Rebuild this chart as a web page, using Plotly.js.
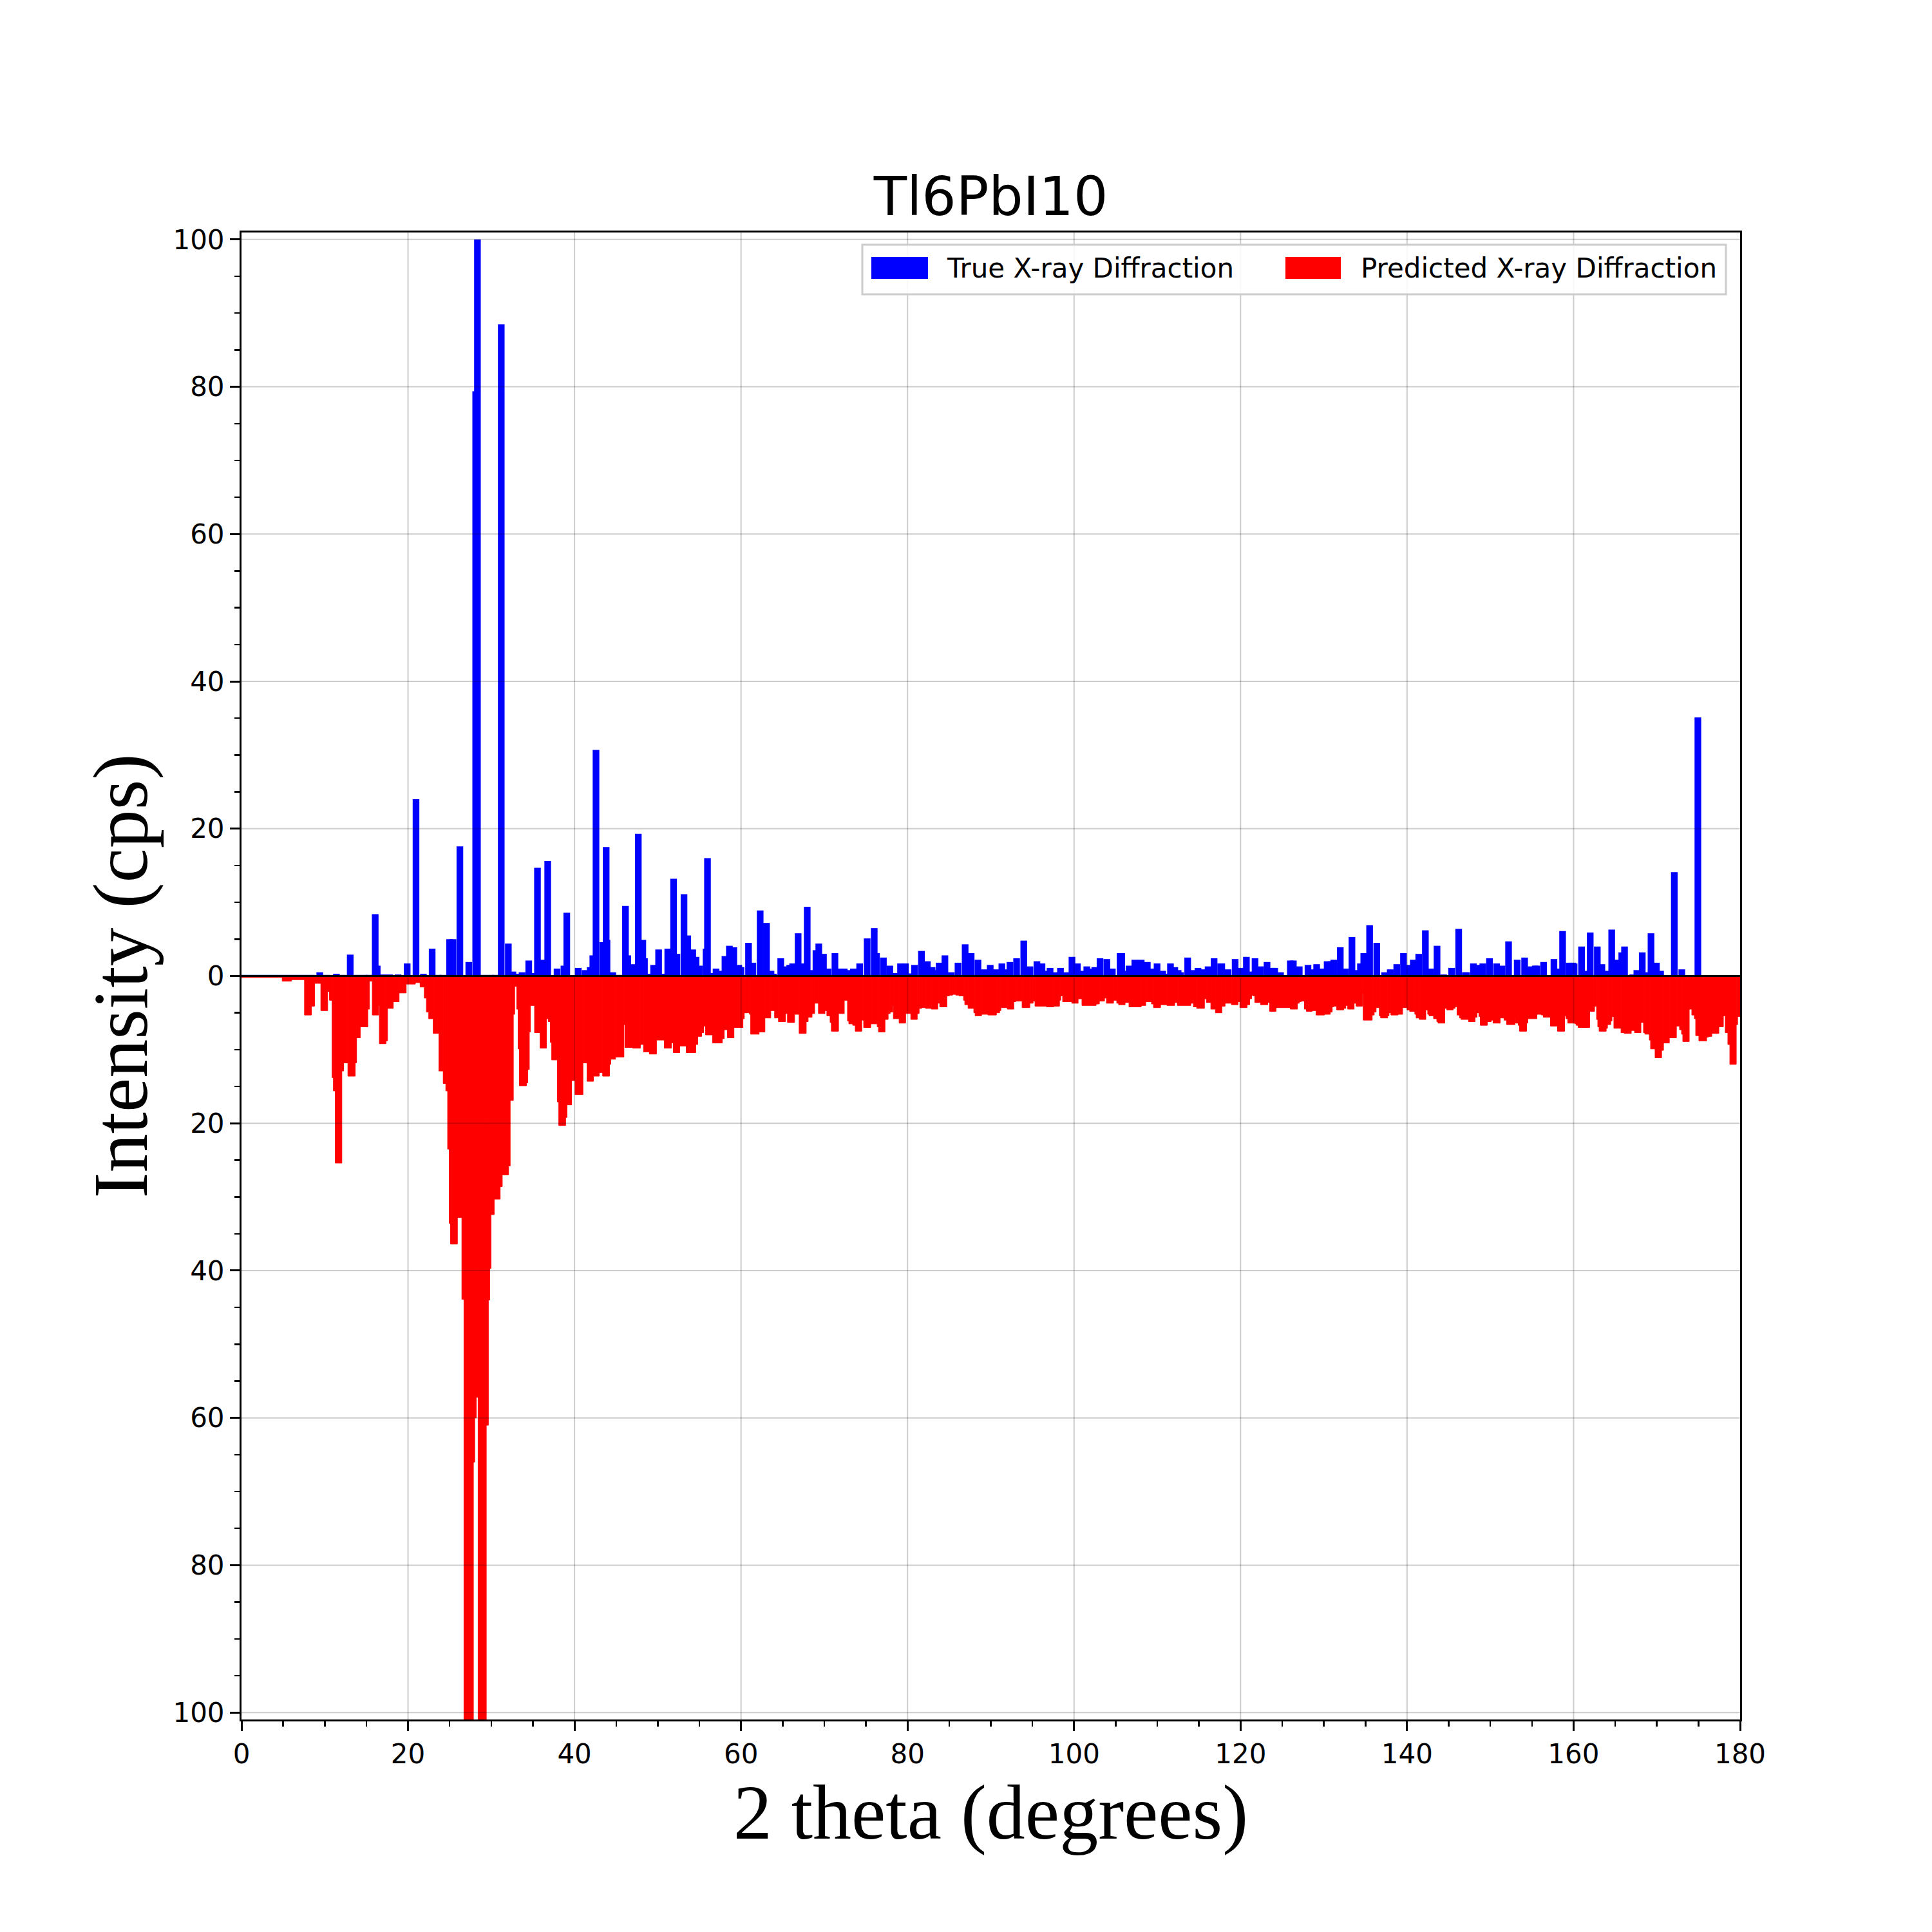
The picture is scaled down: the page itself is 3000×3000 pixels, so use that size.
<!DOCTYPE html>
<html><head><meta charset="utf-8">
<script src="https://cdn.plot.ly/plotly-3.0.1.min.js"></script>
<style>html,body{margin:0;padding:0;background:#fff}</style>
</head><body>
<div id="chart" style="width:3000px;height:3000px"></div>
<script>
const chartTitle = 'Tl6PbI10';
const xTitle = '2 theta (degrees)';
const yTitle = 'Intensity (cps)';
const seriesNames = ['True X-ray Diffraction', 'Predicted X-ray Diffraction'];
const seriesColors = ['#0000ff', '#ff0000'];
const xTickVals = [0, 20, 40, 60, 80, 100, 120, 140, 160, 180];
const yTickVals = [-100, -80, -60, -40, -20, 0, 20, 40, 60, 80, 100];
const yTickText = ['100', '80', '60', '40', '20', '0', '20', '40', '60', '80', '100'];
const topTickVals = [0, 36, 72, 108, 144, 180];
const rightTickVals = [-100.95, -60.57, -20.19, 20.19, 60.57, 100.95];

// True pattern: peak position (2 theta, deg) and intensity
const trueTheta = [
  0.4, 1.2, 2.0, 2.8, 3.6, 4.4, 5.2, 6.0, 6.8, 7.6,
  8.4, 9.4, 10.2, 11.4, 12.2, 13.06, 13.9, 14.7, 15.3, 16.06,
  16.3, 17.0, 17.8, 18.8, 19.9, 20.96, 21.85, 22.9, 23.6, 24.2,
  25.0, 25.4, 26.23, 27.3, 28.13, 28.34, 29.1, 29.9, 30.5, 31.2,
  32.05, 32.6, 33.0, 33.7, 34.5, 35.0, 35.55, 36.2, 36.78, 37.9,
  38.73, 39.07, 39.7, 40.45, 41.28, 41.88, 42.2, 42.58, 43.4, 43.8,
  43.9, 44.6, 45.3, 46.12, 46.4, 46.9, 47.66, 48.2, 48.4, 49.0,
  49.5, 50.1, 50.6, 51.2, 51.9, 52.3, 53.15, 53.6, 54.2, 54.6,
  55.0, 55.8, 55.97, 56.4, 57.0, 57.5, 58.07, 58.6, 59.13, 59.73,
  60.0, 60.9, 61.42, 62.3, 63.06, 63.6, 63.9, 64.77, 65.4, 65.85,
  66.2, 66.86, 67.4, 67.95, 68.5, 69.0, 69.34, 69.9, 70.45, 71.28,
  72.0, 72.4, 73.0, 73.5, 74.25, 75.15, 76.0, 76.27, 77.1, 77.87,
  78.4, 79.16, 79.75, 80.35, 80.84, 81.67, 82.38, 82.95, 83.3, 83.8,
  84.49, 85.25, 86.06, 86.92, 87.64, 88.46, 89.2, 89.93, 90.6, 91.33,
  91.8, 92.3, 93.1, 93.96, 94.7, 95.54, 96.15, 96.55, 97.12, 97.7,
  98.37, 99.0, 99.75, 100.4, 100.9, 101.53, 102.1, 102.5, 103.12, 103.94,
  104.6, 105.53, 105.73, 106.25, 106.6, 107.3, 108.07, 108.8, 109.3, 109.97,
  110.65, 111.0, 111.58, 112.1, 112.5, 112.8, 113.65, 114.25, 114.89, 115.6,
  116.1, 116.82, 117.61, 117.74, 118.5, 119.35, 120.0, 120.7, 121.2, 121.74,
  122.4, 123.18, 123.9, 124.1, 124.8, 125.98, 126.34, 127.05, 128.1, 128.6,
  129.14, 129.75, 130.4, 130.9, 131.2, 131.98, 132.6, 133.38, 134.0, 134.4,
  134.8, 135.5, 136.36, 137.3, 137.98, 138.76, 139.57, 140.2, 140.75, 141.4,
  142.2, 142.85, 143.6, 144.4, 145.35, 146.2, 147.0, 147.15, 147.97, 148.55,
  149.1, 149.9, 150.75, 151.4, 152.19, 153.23, 154.12, 154.7, 155.4, 155.58,
  156.4, 157.0, 157.64, 158.15, 158.68, 159.47, 159.87, 160.06, 160.96, 161.5,
  162.0, 162.85, 163.4, 163.9, 164.58, 165.2, 165.79, 166.12, 167.1, 167.6,
  168.25, 168.8, 169.3, 169.95, 170.45, 171.0, 171.4, 172.1, 173.0, 173.8,
  174.2, 174.93, 175.8, 176.6, 177.4, 178.2, 179.0, 179.6
];
const trueIntensity = [
  0.15, 0.15, 0.15, 0.15, 0.15, 0.15, 0.15, 0.15, 0.15, 0.15,
  0.15, 0.5, 0.15, 0.3, 0.15, 2.9, 0.15, 0.15, 0.15, 8.4,
  1.4, 0.2, 0.2, 0.2, 1.7, 24.0, 0.3, 3.7, 0.15, 0.15,
  5.0, 5.0, 17.6, 1.9, 79.4, 100, 0.15, 0.15, 0.15, 88.5,
  4.4, 0.6, 0.3, 0.5, 2.1, 0.4, 14.7, 2.2, 15.6, 1.0,
  1.4, 8.6, 0.1, 1.1, 0.8, 1.2, 2.8, 30.7, 4.6, 17.5,
  4.9, 0.5, 0.15, 9.5, 2.8, 1.6, 19.3, 4.9, 2.4, 0.3,
  1.5, 3.6, 0.3, 3.7, 13.2, 3.0, 11.1, 5.5, 3.6, 2.6,
  1.4, 3.7, 16.0, 0.4, 1.0, 0.7, 2.7, 4.1, 3.9, 1.5,
  1.2, 4.5, 1.8, 8.9, 7.2, 0.7, 0.3, 2.4, 1.3, 1.5,
  1.7, 5.8, 1.7, 9.4, 0.8, 3.5, 4.4, 3.0, 1.0, 3.1,
  1.0, 1.0, 0.8, 1.0, 1.7, 5.1, 6.5, 3.1, 2.5, 1.4,
  0.4, 1.7, 1.7, 0.35, 1.5, 3.4, 2.0, 1.2, 0.8, 1.8,
  2.8, 0.5, 1.8, 4.3, 3.1, 2.2, 0.9, 1.5, 0.9, 1.7,
  0.9, 1.9, 2.4, 4.8, 1.3, 2.0, 1.7, 0.7, 1.1, 0.5,
  1.1, 0.5, 2.6, 1.7, 0.7, 1.3, 1.0, 1.2, 2.4, 2.3,
  1.0, 3.1, 3.1, 0.7, 1.4, 2.2, 2.2, 1.9, 1.0, 1.7,
  0.7, 0.3, 1.7, 1.2, 0.8, 0.5, 2.5, 0.8, 1.1, 0.9,
  1.3, 2.4, 1.7, 1.7, 0.9, 2.3, 1.1, 2.6, 0.6, 2.4,
  1.3, 1.9, 1.1, 1.1, 0.5, 2.1, 2.1, 1.3, 1.5, 0.9,
  1.6, 1.0, 2.0, 2.0, 2.2, 3.9, 1.0, 5.3, 0.8, 1.7,
  3.1, 6.9, 4.5, 0.5, 0.9, 1.6, 3.1, 1.5, 2.2, 3.0,
  6.2, 1.0, 4.1, 0.2, 1.1, 6.4, 0.5, 0.5, 1.7, 1.5,
  1.7, 2.4, 1.7, 1.4, 4.7, 2.2, 2.5, 1.3, 1.4, 1.4,
  1.9, 0.1, 2.3, 1.0, 6.1, 1.8, 1.8, 1.7, 4.0, 0.7,
  5.9, 4.0, 1.6, 0.7, 6.3, 2.2, 3.2, 4.0, 0.2, 0.8,
  3.2, 0.5, 5.8, 1.8, 0.7, 0.1, 0.1, 14.1, 0.9, 0.1,
  0.1, 35.1, 0.1, 0.1, 0.1, 0.1, 0.1, 0.1
];

// Predicted pattern: step start (2 theta, deg) and intensity of each step (drawn mirrored below zero)
const predStart = [
  0, 4.89, 5.99, 7.57, 8.39, 8.77, 9.53, 10.35, 10.57, 10.88,
  11.04, 11.26, 12.05, 12.27, 12.78, 13.66, 13.82, 14.26, 15.17, 15.36,
  15.71, 16.47, 16.56, 17.35, 17.54, 18.23, 18.93, 19.78, 20.88, 21.45,
  21.96, 22.21, 22.49, 23.03, 23.72, 24.23, 24.54, 24.76, 24.95, 25.11,
  25.93, 26.47, 26.72, 27.85, 28.01, 28.2, 28.42, 29.4, 29.65, 29.81,
  29.97, 30.35, 31.07, 31.32, 32.08, 32.27, 32.65, 32.81, 33.06, 33.22,
  33.38, 34.23, 34.39, 34.57, 34.7, 35.2, 35.87, 36.62, 36.85, 37.1,
  37.26, 37.95, 38.11, 38.93, 39.09, 39.65, 40.06, 41.01, 41.51, 42.27,
  42.97, 43.38, 44.2, 44.35, 44.92, 45.93, 46.06, 46.98, 47.91, 48.29,
  48.99, 49.84, 50.78, 51.63, 51.86, 52.64, 53.41, 54.57, 54.81, 55.27,
  55.5, 55.74, 56.59, 57.75, 57.98, 58.37, 59.15, 60.23, 60.39, 61.01,
  61.16, 62.17, 62.87, 63.57, 64.03, 64.5, 65.35, 65.58, 66.43, 66.98,
  67.83, 68.06, 68.53, 68.84, 69.3, 70.08, 70.31, 70.7, 70.85, 71.71,
  72.4, 72.79, 72.95, 73.41, 73.72, 74.5, 74.73, 75.58, 76.36, 76.51,
  77.29, 77.67, 77.91, 78.22, 78.3, 78.99, 79.77, 80.39, 81.16, 81.39,
  81.7, 82.16, 82.86, 83.63, 83.87, 84.72, 85.03, 85.41, 85.8, 86.19,
  86.73, 86.88, 87.27, 87.96, 88.12, 88.89, 89.66, 90.67, 91.06, 91.21,
  91.98, 92.76, 92.99, 93.76, 94.69, 95.08, 95.31, 96.7, 97.55, 98.25,
  98.4, 98.63, 99.72, 100.49, 100.95, 102.65, 103.04, 103.66, 103.89, 104.74,
  105.13, 105.36, 106.13, 106.6, 108.07, 108.61, 109.3, 109.54, 110.39, 111.16,
  112.09, 112.4, 114.03, 114.34, 114.73, 115.66, 115.89, 116.43, 116.98, 117.75,
  118.14, 118.91, 119.69, 119.92, 120.78, 121.09, 121.32, 121.47, 121.71, 122.4,
  123.26, 123.49, 124.26, 125.97, 126.82, 127.05, 127.29, 127.67, 127.91, 128.6,
  129.07, 130.08, 130.78, 131.01, 131.16, 131.55, 132.4, 132.64, 132.87, 133.64,
  133.88, 134.65, 134.73, 135.81, 136.05, 136.28, 136.67, 136.82, 137.67, 137.83,
  138.06, 138.91, 139.46, 140.0, 140.31, 140.93, 141.09, 141.47, 142.25, 142.48,
  142.64, 143.18, 143.57, 143.72, 144.53, 144.77, 145.54, 145.77, 145.92, 146.0,
  146.31, 146.47, 147.39, 148.17, 148.4, 148.63, 148.79, 149.64, 150.1, 150.33,
  151.18, 151.65, 151.96, 152.96, 153.04, 153.35, 153.5, 154.35, 154.51, 155.59,
  156.13, 156.37, 157.22, 158.07, 158.92, 159.07, 159.3, 160.15, 160.31, 160.54,
  161.93, 162.52, 162.76, 162.91, 163.07, 163.92, 164.07, 164.46, 164.61, 164.84,
  165.7, 166.08, 166.93, 167.32, 168.09, 168.4, 168.56, 169.1, 169.25, 169.79,
  170.57, 170.8, 171.5, 172.35, 172.73, 172.97, 173.12, 173.89, 174.2, 174.51,
  174.67, 175.05, 175.98, 176.21, 176.6, 177.45, 177.99, 178.22, 178.53, 178.77,
  179.54, 179.7
];
const predIntensity = [
  0.2, 0.7, 0.5, 5.3, 4.1, 1.0, 4.7, 2.1, 3.3, 13.8,
  15.6, 25.4, 12.9, 11.8, 13.6, 11.8, 8.4, 6.9, 4.5, 0.7,
  5.3, 4.0, 9.2, 8.8, 4.4, 3.5, 2.3, 1.1, 0.9, 1.5,
  3.0, 4.9, 5.8, 7.8, 12.9, 14.6, 15.6, 23.5, 33.6, 36.4,
  32.8, 43.9, 110, 66, 60, 57.2, 110, 61, 44, 39.7,
  32.4, 30.3, 28.6, 27.0, 25.8, 16.9, 5.2, 1.4, 4.5, 9.9,
  14.9, 14.5, 12.7, 7.6, 4.0, 7.7, 9.8, 5.8, 6.2, 9.0,
  11.4, 17.1, 20.3, 19.2, 17.5, 14.2, 16.1, 11.8, 14.3, 13.6,
  13.1, 13.6, 12.0, 11.3, 11.0, 6.6, 9.7, 9.8, 9.3, 10.3,
  10.6, 8.7, 9.8, 9.1, 10.4, 9.5, 10.4, 9.3, 8.2, 7.7,
  6.8, 8.0, 9.1, 8.5, 7.3, 8.4, 7.0, 5.8, 5.0, 5.2,
  7.9, 7.6, 5.7, 4.7, 5.7, 6.2, 5.1, 6.3, 5.2, 7.8,
  6.2, 5.6, 5.1, 3.7, 5.1, 4.7, 5.4, 6.3, 7.5, 5.1,
  3.3, 6.1, 6.5, 6.7, 7.5, 6.0, 7.0, 6.5, 6.9, 7.6,
  5.9, 5.1, 4.9, 4.0, 5.8, 6.4, 5.1, 5.9, 5.1, 4.4,
  4.3, 4.4, 4.5, 3.7, 4.2, 2.7, 2.6, 2.5, 2.6, 2.7,
  3.3, 3.9, 4.4, 5.0, 5.4, 5.2, 5.3, 5.0, 4.7, 4.3,
  4.5, 3.5, 3.4, 4.3, 3.7, 3.4, 4.1, 4.2, 4.1, 3.3,
  2.7, 3.5, 3.7, 3.1, 4.0, 3.8, 3.4, 3.0, 3.7, 3.3,
  3.7, 3.9, 3.6, 4.2, 4.0, 3.5, 3.8, 4.3, 3.9, 4.0,
  3.6, 4.0, 3.7, 4.2, 4.4, 3.1, 3.6, 4.5, 5.0, 4.1,
  3.7, 3.9, 3.5, 4.3, 3.9, 3.1, 2.6, 2.7, 3.6, 3.9,
  3.6, 4.8, 4.3, 4.5, 3.7, 3.5, 3.4, 4.5, 4.8, 4.7,
  5.3, 5.2, 4.9, 4.2, 4.1, 4.6, 4.4, 4.0, 4.5, 3.7,
  4.1, 2.4, 6.0, 5.3, 4.9, 4.3, 5.4, 5.7, 5.4, 5.0,
  5.3, 5.2, 4.3, 4.6, 4.8, 5.2, 5.7, 5.9, 4.6, 5.2,
  5.4, 5.8, 6.2, 6.4, 4.4, 4.6, 4.4, 4.2, 3.9, 5.3,
  5.7, 5.9, 6.2, 5.6, 5.0, 5.5, 6.7, 6.2, 6.0, 6.4,
  5.7, 6.0, 6.6, 5.6, 6.4, 6.7, 7.5, 6.4, 5.8, 5.2,
  5.3, 5.6, 6.8, 7.5, 5.4, 5.8, 6.4, 6.5, 6.7, 7.0,
  4.8, 4.1, 5.9, 6.9, 7.5, 7.1, 6.6, 6.1, 5.5, 7.1,
  7.7, 7.8, 7.4, 7.7, 6.3, 7.7, 7.9, 8.7, 9.9, 11.1,
  10.1, 9.1, 8.4, 6.8, 7.3, 7.9, 8.9, 4.5, 5.3, 5.8,
  8.1, 8.8, 8.3, 8.2, 7.8, 6.9, 5.4, 7.7, 9.3, 12.0,
  6.6, 5.5
];

const xMax = 180;
const yLim = 100.95;

// build step bars for the predicted pattern from the step starts
const predEnd = predStart.slice(1).concat([xMax]);
const predCenter = predStart.map((s, i) => (s + predEnd[i]) / 2);
const predWidth = predStart.map((s, i) => predEnd[i] - s);
const predNeg = predIntensity.map(v => -v);

const traces = [
  {
    type: 'bar', name: seriesNames[0], x: trueTheta, y: trueIntensity, width: 0.8,
    marker: {color: seriesColors[0], line: {width: 0}}, showlegend: false, hoverinfo: 'skip'
  },
  {
    type: 'bar', name: seriesNames[1], x: predCenter, y: predNeg, width: predWidth,
    marker: {color: seriesColors[1], line: {color: seriesColors[1], width: 1}}, showlegend: false, hoverinfo: 'skip'
  }
];

// plot-area geometry (pixels) for placing the legend box
const W = 3000, H = 3000;
const M = {l: 375, r: 298, t: 361, b: 330};
const pw = W - M.l - M.r, ph = H - M.t - M.b;
const px = v => (v - M.l) / pw;
const py = v => (H - M.b - v) / ph;

const gridColor = 'rgba(0,0,0,0.2)';
const shapes = [];
xTickVals.slice(1, -1).forEach(v => shapes.push({type: 'line', xref: 'x', yref: 'paper', x0: v, x1: v, y0: 0, y1: 1, line: {color: gridColor, width: 2}, layer: 'above'}));
yTickVals.forEach(v => { if (v !== 0) shapes.push({type: 'line', xref: 'paper', yref: 'y', x0: 0, x1: 1, y0: v, y1: v, line: {color: gridColor, width: 2}, layer: 'above'}); });
shapes.push({type: 'line', xref: 'x', yref: 'y', x0: 0, x1: xMax, y0: 0, y1: 0, line: {color: '#000', width: 3}, layer: 'above'});
// legend frame and patches
shapes.push({type: 'rect', xref: 'paper', yref: 'paper', x0: px(1339), x1: px(2680), y0: py(457), y1: py(380), line: {color: '#cccccc', width: 3}, fillcolor: 'rgba(255,255,255,0.85)', layer: 'above'});
shapes.push({type: 'rect', xref: 'paper', yref: 'paper', x0: px(1353), x1: px(1441), y0: py(433), y1: py(399), line: {width: 0}, fillcolor: seriesColors[0], layer: 'above'});
shapes.push({type: 'rect', xref: 'paper', yref: 'paper', x0: px(1996), x1: px(2082), y0: py(433), y1: py(399), line: {width: 0}, fillcolor: seriesColors[1], layer: 'above'});

const legendFont = {family: 'DejaVu Sans', size: 42, color: '#000'};
const annotations = [
  {xref: 'paper', yref: 'paper', x: px(1468), y: py(416), xanchor: 'left', yanchor: 'middle', text: seriesNames[0], showarrow: false, font: legendFont},
  {xref: 'paper', yref: 'paper', x: px(2111), y: py(416), xanchor: 'left', yanchor: 'middle', text: seriesNames[1], showarrow: false, font: legendFont}
];

const tickFont = {family: 'DejaVu Sans', size: 42, color: '#000'};
const titleFont = {family: 'Liberation Serif', size: 120, color: '#000'};

const layout = {
  width: W, height: H,
  margin: M,
  paper_bgcolor: '#fff', plot_bgcolor: '#fff',
  barmode: 'overlay', showlegend: false,
  title: {text: chartTitle, font: {family: 'DejaVu Sans', size: 84, color: '#000'}, x: 0.5, xref: 'paper', xanchor: 'center', y: 1 - 305 / H, yref: 'container', yanchor: 'middle'},
  xaxis: {
    range: [0, xMax], tickmode: 'array', tickvals: xTickVals, ticks: 'outside', ticklen: 15, tickwidth: 3, tickcolor: '#000',
    showline: true, linewidth: 3, linecolor: '#000', mirror: true, showgrid: false, zeroline: false,
    tickfont: tickFont, automargin: false,
    minor: {ticks: 'outside', tickmode: 'linear', tick0: 0, dtick: 5, ticklen: 8, tickwidth: 2.5, tickcolor: '#000', showgrid: false},
    title: {text: xTitle, font: titleFont, standoff: 22}
  },
  yaxis: {
    range: [-yLim, yLim], tickmode: 'array', tickvals: yTickVals, ticktext: yTickText, ticks: 'outside', ticklen: 15, tickwidth: 3, tickcolor: '#000',
    showline: true, linewidth: 3, linecolor: '#000', mirror: true, showgrid: false, zeroline: false,
    tickfont: tickFont, automargin: false,
    minor: {ticks: 'outside', tickmode: 'linear', tick0: 0, dtick: 5, ticklen: 8, tickwidth: 2.5, tickcolor: '#000', showgrid: false},
    title: {text: yTitle, font: titleFont, standoff: 0}
  },
  xaxis2: {
    overlaying: 'x', anchor: 'y', side: 'top', range: [0, xMax], tickmode: 'array', tickvals: topTickVals,
    ticks: 'outside', ticklen: 14, tickwidth: 3, tickcolor: '#000', showticklabels: false, showgrid: false, zeroline: false,
    showline: false, mirror: 'ticks',
    minor: {ticks: 'outside', tickmode: 'linear', tick0: 0, dtick: 5, ticklen: 7, tickwidth: 2.5, tickcolor: '#000', showgrid: false}
  },
  yaxis2: {
    overlaying: 'y', anchor: 'x', side: 'right', range: [-yLim, yLim], tickmode: 'array', tickvals: rightTickVals,
    ticks: 'outside', ticklen: 15, tickwidth: 3, tickcolor: '#000', showticklabels: false, showgrid: false, zeroline: false,
    showline: false, mirror: 'ticks',
    minor: {ticks: 'outside', tickmode: 'linear', tick0: 0, dtick: 5, ticklen: 8, tickwidth: 2.5, tickcolor: '#000', showgrid: false}
  },
  shapes: shapes,
  annotations: annotations
};

Plotly.newPlot('chart', traces, layout, {displayModeBar: false, staticPlot: true});
</script>
</body></html>
